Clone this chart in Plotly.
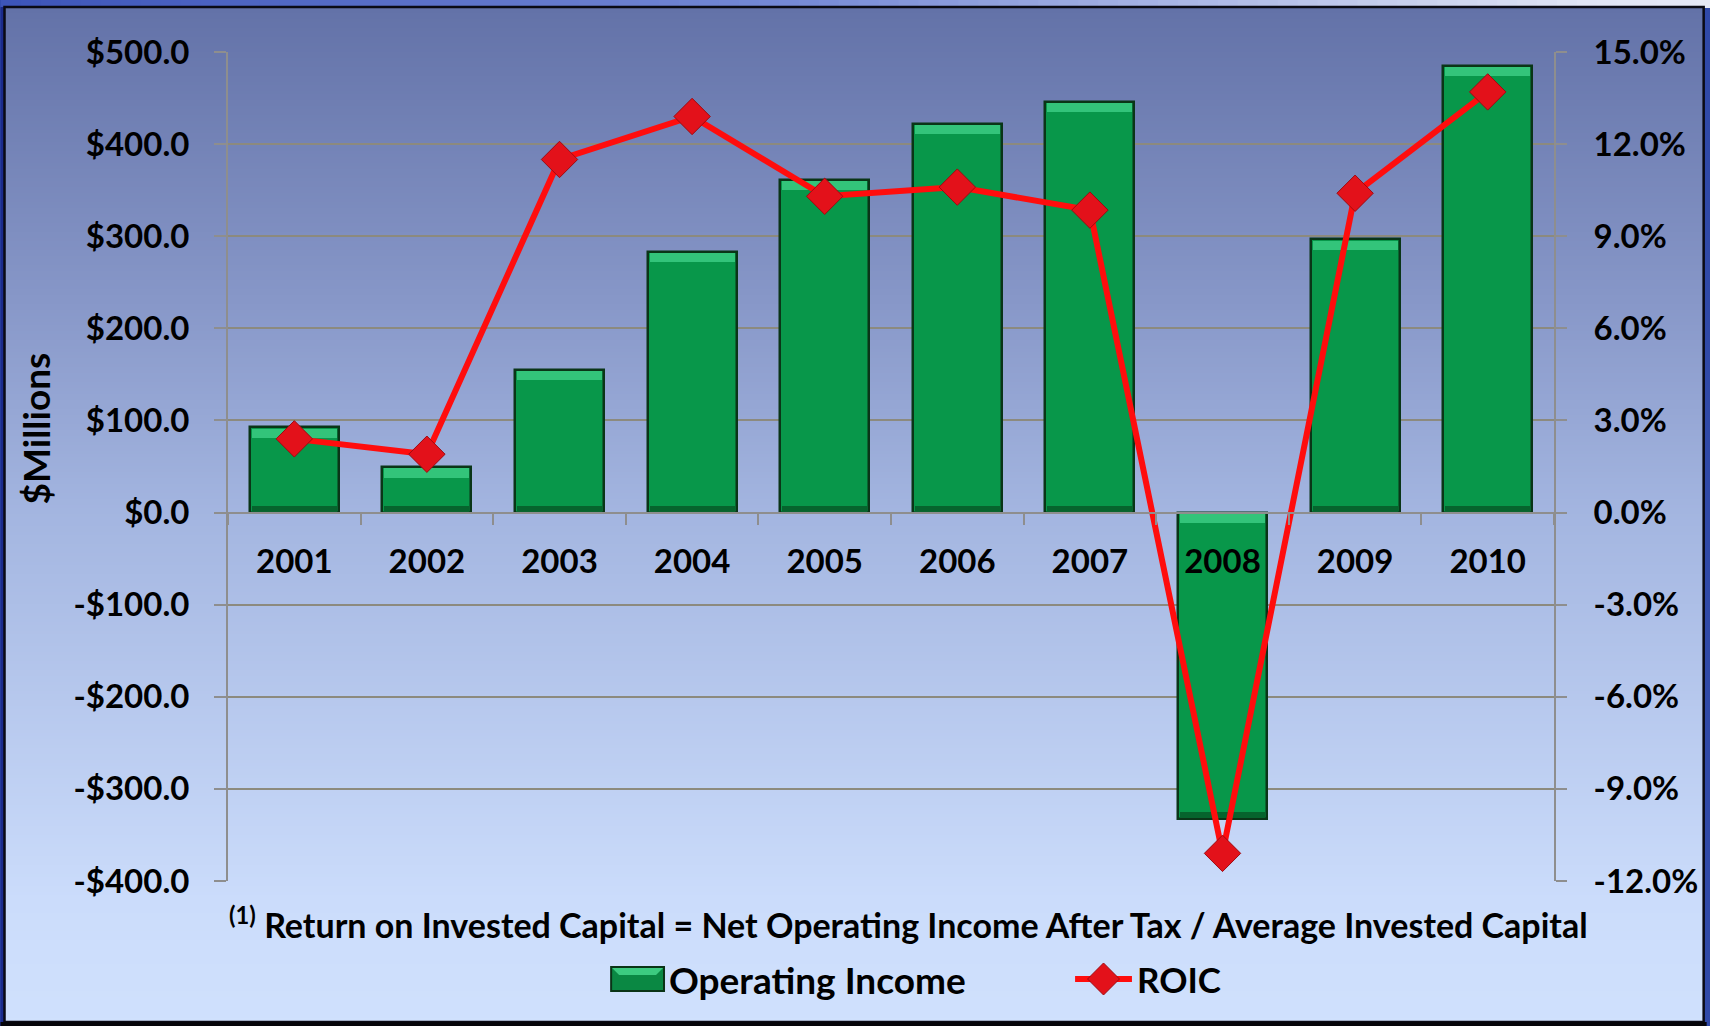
import plotly.graph_objects as go

# ---- data -------------------------------------------------------------
years = ["2001", "2002", "2003", "2004", "2005", "2006", "2007", "2008", "2009", "2010"]
operating_income = [92.5, 49.5, 155, 283, 361.5, 422, 446, -333, 296.5, 485]   # $ millions
roic = [2.4, 1.9, 11.5, 12.9, 10.3, 10.6, 9.85, -11.1, 10.4, 13.7]            # percent

left_ticks = [-400, -300, -200, -100, 0, 100, 200, 300, 400, 500]
left_labels = ["-$400.0", "-$300.0", "-$200.0", "-$100.0", "$0.0",
               "$100.0", "$200.0", "$300.0", "$400.0", "$500.0"]
right_ticks = [-12, -9, -6, -3, 0, 3, 6, 9, 12, 15]
right_labels = ["-12.0%", "-9.0%", "-6.0%", "-3.0%", "0.0%",
                "3.0%", "6.0%", "9.0%", "12.0%", "15.0%"]

footnote = "<sup>(1)</sup> Return on Invested Capital = Net Operating Income After Tax / Average Invested Capital"

# ---- page geometry ------------------------------------------------------
W, H = 1710, 1026
L, R, T, B = 228, 1557, 52, 881          # plot area in pixels
FONT = "Lato"


def px(x):
    return (x - L) / (R - L)


def py(y):
    return (B - y) / (B - T)


def lerp_color(stops, t):
    for (t0, c0), (t1, c1) in zip(stops, stops[1:]):
        if t0 <= t <= t1:
            f = (t - t0) / (t1 - t0) if t1 > t0 else 0
            return "rgb(%d,%d,%d)" % tuple(round(a + (b - a) * f) for a, b in zip(c0, c1))
    return "rgb(%d,%d,%d)" % stops[-1][1]


shapes = []

# slide strip along the top edge
top_stops = [(0, (60, 84, 185)), (800, (118, 138, 214)), (1600, (226, 230, 245)), (1710, (230, 233, 246))]
for x0 in range(0, W, 20):
    shapes.append(dict(type="rect", xref="paper", yref="paper", layer="below",
                       x0=px(x0), x1=px(x0 + 21), y0=py(8), y1=py(0),
                       fillcolor=lerp_color(top_stops, x0 + 10), line=dict(width=0)))

# vertical gradient of the chart panel
bg_stops = [(0, (98, 113, 167)), (300, (135, 151, 200)), (510, (163, 181, 224)),
            (900, (203, 220, 251)), (1030, (208, 225, 253))]
for y0 in range(7, 1022, 3):
    shapes.append(dict(type="rect", xref="paper", yref="paper", layer="below",
                       x0=px(4), x1=px(1707), y0=py(min(y0 + 3.6, 1022)), y1=py(y0),
                       fillcolor=lerp_color(bg_stops, y0 + 1.5), line=dict(width=0)))

# panel frame
shapes.append(dict(type="rect", xref="paper", yref="paper", layer="below",
                   x0=px(0), x1=px(3.5), y0=py(W), y1=py(7),
                   fillcolor="#1B2B8C", line=dict(width=0)))
shapes.append(dict(type="rect", xref="paper", yref="paper", layer="below",
                   x0=px(4), x1=px(1707), y0=py(1022), y1=py(7),
                   fillcolor="rgba(0,0,0,0)", line=dict(color="#0A0A14", width=2.5)))
shapes.append(dict(type="rect", xref="paper", yref="paper", layer="below",
                   x0=px(0), x1=px(W), y0=py(H + 2), y1=py(1022),
                   fillcolor="#05050A", line=dict(width=0)))

# custom legend symbols
lg_y = 979
shapes.append(dict(type="rect", xref="paper", yref="paper",
                   x0=px(612), x1=px(665), y0=py(lg_y + 12), y1=py(lg_y - 12),
                   fillcolor="#0A8843", line=dict(color="#0A3416", width=2)))
shapes.append(dict(type="path", xref="paper", yref="paper",
                   path="M %f %f L %f %f L %f %f L %f %f Z" % (
                       px(613), py(lg_y - 11), px(664), py(lg_y - 11),
                       px(657), py(lg_y - 4), px(620), py(lg_y - 4)),
                   fillcolor="#3CCB80", line=dict(width=0)))
shapes.append(dict(type="line", xref="paper", yref="paper",
                   x0=px(1077), x1=px(1134), y0=py(lg_y), y1=py(lg_y),
                   line=dict(color="#FF0D0D", width=6)))
cx, r = 1105.5, 16
shapes.append(dict(type="path", xref="paper", yref="paper",
                   path="M %f %f L %f %f L %f %f L %f %f Z" % (
                       px(cx - r), py(lg_y), px(cx), py(lg_y - r),
                       px(cx + r), py(lg_y), px(cx), py(lg_y + r)),
                   fillcolor="#E3111A", line=dict(color="#9E0A10", width=1)))

# ---- traces -------------------------------------------------------------
BAR_W = 0.67
bevel_top = 10      # height of the highlight band, in $M
bevel_bot = 6

fig = go.Figure()

fig.add_trace(go.Bar(
    x=years, y=operating_income, width=BAR_W, name="Operating Income",
    marker=dict(color="#08974A", line=dict(color="#0A3517", width=2.5)),
    showlegend=False, yaxis="y",
))
# lit upper edge of each bar
fig.add_trace(go.Bar(
    x=years, y=[bevel_top] * len(years), width=BAR_W - 0.03,
    base=[max(v, 0) - bevel_top - 1.5 for v in operating_income],
    marker=dict(color="#33C47A", line=dict(width=0)),
    showlegend=False, hoverinfo="skip", yaxis="y",
))
# shaded lower edge of each bar
fig.add_trace(go.Bar(
    x=years, y=[bevel_bot] * len(years), width=BAR_W - 0.03,
    base=[min(v, 0) + 1.5 for v in operating_income],
    marker=dict(color="#06642D", line=dict(width=0)),
    showlegend=False, hoverinfo="skip", yaxis="y",
))

fig.add_trace(go.Scatter(
    x=years, y=roic, name="ROIC", mode="lines+markers", yaxis="y2",
    line=dict(color="#FF0D0D", width=6),
    marker=dict(symbol="diamond", size=28, color="#E3111A",
                line=dict(color="#9E0A10", width=1)),
    showlegend=False,
))

# ---- annotations --------------------------------------------------------
annotations = [
    dict(text="$Millions", xref="paper", yref="paper", x=px(35), y=py(428),
         textangle=-90, showarrow=False, xanchor="center", yanchor="middle",
         font=dict(family=FONT, size=37, color="#000", weight=700)),
    dict(text=footnote, xref="paper", yref="paper", x=px(910), y=py(923),
         showarrow=False, xanchor="center", yanchor="middle",
         font=dict(family=FONT, size=34, color="#000", weight=700)),
    dict(text="Operating Income", xref="paper", yref="paper", x=px(668), y=py(lg_y),
         showarrow=False, xanchor="left", yanchor="middle",
         font=dict(family=FONT, size=37, color="#000", weight=700)),
    dict(text="ROIC", xref="paper", yref="paper", x=px(1137), y=py(lg_y),
         showarrow=False, xanchor="left", yanchor="middle",
         font=dict(family=FONT, size=35, color="#000", weight=700)),
]

axis_font = dict(family=FONT, size=33, color="#000", weight=700)
GRID = "#8C8A7E"
LINE = "#8E8E8E"

fig.update_layout(
    width=W, height=H,
    margin=dict(l=L, r=W - R, t=T, b=H - B, pad=0),
    paper_bgcolor="#3049A8", plot_bgcolor="rgba(0,0,0,0)",
    barmode="overlay", bargap=0,
    showlegend=False,
    shapes=shapes, annotations=annotations,
    xaxis=dict(
        type="category", anchor="free", position=4 / 9,
        showline=True, linecolor=LINE, linewidth=2,
        ticks="outside", tickson="boundaries", ticklen=11, tickcolor=LINE, tickwidth=2,
        showgrid=False, tickfont=axis_font, ticklabelstandoff=20,
        range=[-0.5, len(years) - 0.5],
    ),
    yaxis=dict(
        range=[-400, 500], tickvals=left_ticks, ticktext=left_labels,
        showgrid=True, gridcolor=GRID, gridwidth=1.5, zeroline=False,
        showline=True, linecolor=LINE, linewidth=2,
        ticks="outside", ticklen=12, tickcolor=LINE, tickwidth=2,
        tickfont=axis_font, ticklabelstandoff=18,
    ),
    yaxis2=dict(
        overlaying="y", side="right",
        range=[-12, 15], tickvals=right_ticks, ticktext=right_labels,
        showgrid=False, zeroline=False,
        showline=True, linecolor=LINE, linewidth=2,
        ticks="outside", ticklen=11, tickcolor=LINE, tickwidth=2,
        tickfont=axis_font, ticklabelstandoff=20,
    ),
)

fig.write_html("out.html")
